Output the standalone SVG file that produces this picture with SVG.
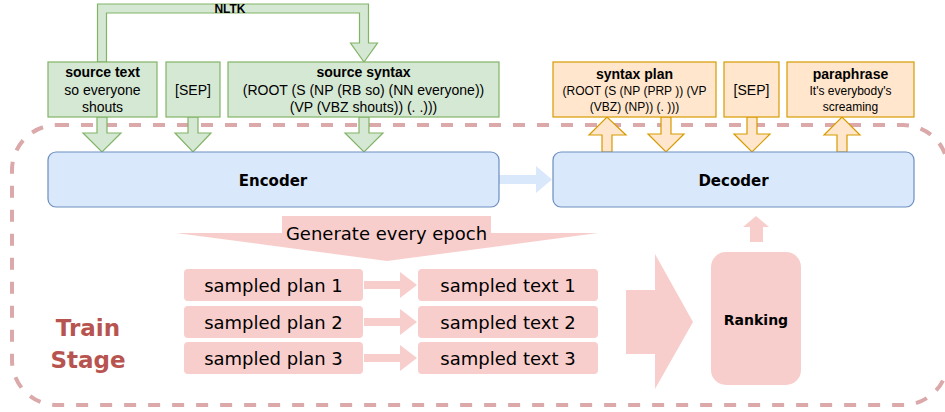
<svg xmlns="http://www.w3.org/2000/svg" width="945" height="412" viewBox="0 0 945 412">
<style>
.g{fill:#d5e8d4;stroke:#82b366;stroke-width:1.2}
.o{fill:#ffe6cc;stroke:#d79b00;stroke-width:1.2}
.b{fill:#dae8fc;stroke:#6c8ebf;stroke-width:1.2}
.p{fill:#f8cecc;stroke:none}
.t{font-family:"Liberation Sans",Arial,sans-serif;font-size:14px;fill:#000;text-anchor:middle}
.ts{font-family:"Liberation Sans",Arial,sans-serif;font-size:12px;fill:#000;text-anchor:middle}
.bd{font-weight:bold}
.v{font-family:"DejaVu Sans",Verdana,sans-serif;font-size:18px;fill:#000;text-anchor:middle}
.c{font-family:"DejaVu Sans",sans-serif;font-weight:bold;fill:#000;text-anchor:middle}
</style>
<rect id="train-stage-frame" x="12" y="125" width="936" height="280" rx="45" ry="45" fill="none" stroke="#dba9a9" stroke-width="4" stroke-dasharray="12 12"/>
<g id="connectors">
<polygon class="g" points="97.5,62 97.5,4 368.5,4 368.5,43 377.5,43 364,62 350.5,43 359.5,43 359.5,13 106.5,13 106.5,62"/>
<text class="ts bd" x="230" y="12.5">NLTK</text>
<polygon class="g" points="97,117 107,117 107,133 121,133 102,152 83,133 97,133"/>
<polygon class="g" points="188,117 198,117 198,133 211,133 193,152 175,133 188,133"/>
<polygon class="g" points="359,117 369,117 369,133 383,133 364,152 345,133 359,133"/>
<polygon class="o" points="602,152 612,152 612,135 626,135 607,117 589,135 602,135"/>
<polygon class="o" points="661,117 671,117 671,134 684,134 666,152 648,134 661,134"/>
<polygon class="o" points="747,117 757,117 757,134 770,134 752,152 734,134 747,134"/>
<polygon class="o" points="837,152 847,152 847,135 860,135 842,117 824,135 837,135"/>
<polygon fill="#dae8fc" points="499,175 536,175 536,166 552,179.5 536,193 536,184 499,184"/>
<polygon class="p" points="176,233 598,233 387,261"/>
<rect class="p" x="282" y="216" width="209" height="30"/>
<text class="v" x="386.5" y="239.5">Generate every epoch</text>
<polygon class="p" points="364,281 400,281 400,272 417,285 400,298 400,289 364,289"/>
<polygon class="p" points="364,318 400,318 400,309 417,322 400,335 400,326 364,326"/>
<polygon class="p" points="364,354 400,354 400,345 417,358 400,371 400,362 364,362"/>
<polygon class="p" points="626,290 655,290 655,254 693,322 655,389 655,354 626,354"/>
<polygon class="p" points="750,242 763,242 763,227 769,227 756,216 743,227 750,227"/>
</g>
<g id="source-text">
<rect class="g" x="48" y="62" width="109" height="55"/>
<text class="t bd" x="102.5" y="77">source text</text>
<text class="t" x="102.5" y="95">so everyone</text>
<text class="t" x="102.5" y="112">shouts</text>
</g>
<g id="sep-src">
<rect class="g" x="166" y="62" width="54" height="55"/>
<text class="t" x="193" y="94.5">[SEP]</text>
</g>
<g id="source-syntax">
<rect class="g" x="228" y="62" width="271" height="55"/>
<text class="t bd" x="363.5" y="77">source syntax</text>
<text class="t" x="363.5" y="95">(ROOT (S (NP (RB so) (NN everyone))</text>
<text class="t" x="363.5" y="112">(VP (VBZ shouts)) (. .)))</text>
</g>
<g id="syntax-plan">
<rect class="o" x="553" y="62" width="163" height="55"/>
<text class="t bd" x="634.5" y="79">syntax plan</text>
<text class="ts" x="634.5" y="94.5">(ROOT (S (NP (PRP )) (VP</text>
<text class="ts" x="634.5" y="110.5">(VBZ) (NP)) (. )))</text>
</g>
<g id="sep-out">
<rect class="o" x="724" y="62" width="55" height="55"/>
<text class="t" x="751.5" y="95">[SEP]</text>
</g>
<g id="paraphrase">
<rect class="o" x="787" y="62" width="127" height="55"/>
<text class="t bd" x="850.5" y="79">paraphrase</text>
<text class="ts" x="850.5" y="94.5">It's everybody's</text>
<text class="ts" x="850.5" y="110.5">screaming</text>
</g>
<g id="encoder">
<rect class="b" x="48" y="152" width="451" height="55" rx="8"/>
<text class="c" x="273" y="185.5" font-size="15">Encoder</text>
</g>
<g id="decoder">
<rect class="b" x="553" y="152" width="361" height="55" rx="8"/>
<text class="c" x="733.5" y="185.5" font-size="15">Decoder</text>
</g>
<g id="sampled-plans">
<rect class="p" x="184" y="269" width="179" height="32" rx="4"/>
<text class="v" x="273.5" y="291.5">sampled plan 1</text>
<rect class="p" x="184" y="306" width="179" height="32" rx="4"/>
<text class="v" x="273.5" y="328.5">sampled plan 2</text>
<rect class="p" x="184" y="342" width="179" height="32" rx="4"/>
<text class="v" x="273.5" y="364.5">sampled plan 3</text>
</g>
<g id="sampled-texts">
<rect class="p" x="418" y="269" width="180" height="32" rx="4"/>
<text class="v" x="508" y="291.5">sampled text 1</text>
<rect class="p" x="418" y="306" width="180" height="32" rx="4"/>
<text class="v" x="508" y="328.5">sampled text 2</text>
<rect class="p" x="418" y="342" width="180" height="32" rx="4"/>
<text class="v" x="508" y="364.5">sampled text 3</text>
</g>
<g id="ranking">
<rect class="p" x="711" y="252" width="90" height="133" rx="15"/>
<text class="c" x="756" y="325" font-size="14">Ranking</text>
</g>
<g id="train-stage-label">
<text class="c" x="88" y="336" font-size="23" fill="#b85450" style="fill:#b85450">Train</text>
<text class="c" x="88" y="368" font-size="23" style="fill:#b85450">Stage</text>
</g>
</svg>
